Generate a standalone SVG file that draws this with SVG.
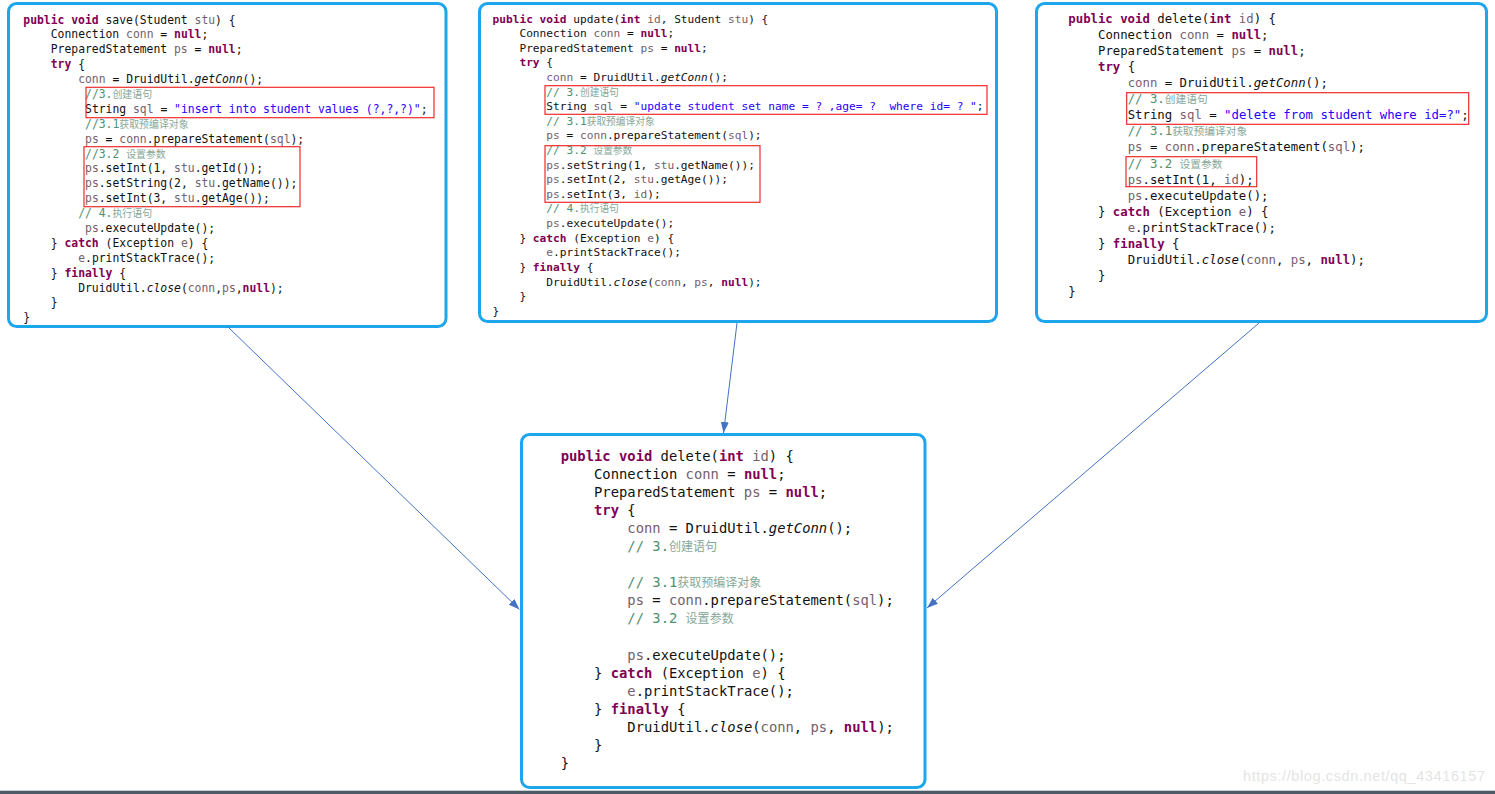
<svg xmlns="http://www.w3.org/2000/svg" width="1495" height="794" viewBox="0 0 1495 794">
<style>
text{font-family:"DejaVu Sans Mono","Liberation Mono",monospace;font-size:10px;fill:#111;white-space:pre}
.k{font-weight:bold;fill:#7f0055}
.v{fill:#75606c}
.s{fill:#2a00ff}
.c{fill:#4f9070}
.z{font-family:"Noto Sans CJK SC",sans-serif;font-size:8.7px;fill:#86a898}
.i{font-style:italic}
.box{fill:#fff;stroke:#1ea6ec;stroke-width:3}
.red{fill:none;stroke:#ee2b2b;stroke-width:1.2}
.wm{font-family:"Liberation Sans",Arial,sans-serif;font-size:14.5px;fill:#e4e4e4}
</style>
<defs>
<marker id="ah" markerUnits="userSpaceOnUse" markerWidth="11" markerHeight="8" refX="11" refY="4" orient="auto">
<path d="M0,0 L11,4 L0,8 z" fill="#4472c4"/>
</marker>
</defs>
<rect x="0" y="0" width="1495" height="794" fill="#fff"/>

<g id="save">
<rect class="box" x="8.5" y="3.5" width="437.5" height="323" rx="8"/>
<g transform="translate(23.3,23.5) scale(1.1395)">
<text x="0" y="0"><tspan class="k">public</tspan> <tspan class="k">void</tspan> save(Student <tspan class="v">stu</tspan>) {</text>
<text x="24.08" y="13.07">Connection <tspan class="v">conn</tspan> = <tspan class="k">null</tspan>;</text>
<text x="24.08" y="26.14">PreparedStatement <tspan class="v">ps</tspan> = <tspan class="k">null</tspan>;</text>
<text x="24.08" y="39.21"><tspan class="k">try</tspan> {</text>
<text x="48.16" y="52.28"><tspan class="v">conn</tspan> = DruidUtil.<tspan class="i">getConn</tspan>();</text>
<text x="54.18" y="65.35"><tspan class="c">//3.</tspan><tspan class="z">创建语句</tspan></text>
<text x="54.18" y="78.42">String <tspan class="v">sql</tspan> = <tspan class="s">"insert into student values (?,?,?)"</tspan>;</text>
<text x="54.18" y="91.49"><tspan class="c">//3.1</tspan><tspan class="z">获取预编译对象</tspan></text>
<text x="54.18" y="104.56"><tspan class="v">ps</tspan> = <tspan class="v">conn</tspan>.prepareStatement(<tspan class="v">sql</tspan>);</text>
<text x="54.18" y="117.63"><tspan class="c">//3.2 </tspan><tspan class="z">设置参数</tspan></text>
<text x="54.18" y="130.7"><tspan class="v">ps</tspan>.setInt(1, <tspan class="v">stu</tspan>.getId());</text>
<text x="54.18" y="143.77"><tspan class="v">ps</tspan>.setString(2, <tspan class="v">stu</tspan>.getName());</text>
<text x="54.18" y="156.84"><tspan class="v">ps</tspan>.setInt(3, <tspan class="v">stu</tspan>.getAge());</text>
<text x="48.16" y="169.91"><tspan class="c">// 4.</tspan><tspan class="z">执行语句</tspan></text>
<text x="54.18" y="182.98"><tspan class="v">ps</tspan>.executeUpdate();</text>
<text x="24.08" y="196.05">} <tspan class="k">catch</tspan> (Exception <tspan class="v">e</tspan>) {</text>
<text x="48.16" y="209.12"><tspan class="v">e</tspan>.printStackTrace();</text>
<text x="24.08" y="222.19">} <tspan class="k">finally</tspan> {</text>
<text x="48.16" y="235.26">DruidUtil.<tspan class="i">close</tspan>(<tspan class="v">conn</tspan>,<tspan class="v">ps</tspan>,<tspan class="k">null</tspan>);</text>
<text x="24.08" y="248.33">}</text>
<text x="0" y="261.4">}</text>
</g>
<rect class="red" x="86" y="87.3" width="348" height="30.4"/>
<rect class="red" x="84" y="146.7" width="216" height="60"/>
</g>

<g id="update">
<rect class="box" x="479.5" y="3.5" width="517" height="318" rx="8"/>
<g transform="translate(492.5,22.5) scale(1.118)">
<text x="0" y="0"><tspan class="k">public</tspan> <tspan class="k">void</tspan> update(<tspan class="k">int</tspan> <tspan class="v">id</tspan>, Student <tspan class="v">stu</tspan>) {</text>
<text x="24.08" y="13.07">Connection <tspan class="v">conn</tspan> = <tspan class="k">null</tspan>;</text>
<text x="24.08" y="26.14">PreparedStatement <tspan class="v">ps</tspan> = <tspan class="k">null</tspan>;</text>
<text x="24.08" y="39.21"><tspan class="k">try</tspan> {</text>
<text x="48.16" y="52.28"><tspan class="v">conn</tspan> = DruidUtil.<tspan class="i">getConn</tspan>();</text>
<text x="48.16" y="65.35"><tspan class="c">// 3.</tspan><tspan class="z">创建语句</tspan></text>
<text x="48.16" y="78.42">String <tspan class="v">sql</tspan> = <tspan class="s">"update student set name = ? ,age= ?  where id= ? "</tspan>;</text>
<text x="48.16" y="91.49"><tspan class="c">// 3.1</tspan><tspan class="z">获取预编译对象</tspan></text>
<text x="48.16" y="104.56"><tspan class="v">ps</tspan> = <tspan class="v">conn</tspan>.prepareStatement(<tspan class="v">sql</tspan>);</text>
<text x="48.16" y="117.63"><tspan class="c">// 3.2 </tspan><tspan class="z">设置参数</tspan></text>
<text x="48.16" y="130.7"><tspan class="v">ps</tspan>.setString(1, <tspan class="v">stu</tspan>.getName());</text>
<text x="48.16" y="143.77"><tspan class="v">ps</tspan>.setInt(2, <tspan class="v">stu</tspan>.getAge());</text>
<text x="48.16" y="156.84"><tspan class="v">ps</tspan>.setInt(3, <tspan class="v">id</tspan>);</text>
<text x="48.16" y="169.91"><tspan class="c">// 4.</tspan><tspan class="z">执行语句</tspan></text>
<text x="48.16" y="182.98"><tspan class="v">ps</tspan>.executeUpdate();</text>
<text x="24.08" y="196.05">} <tspan class="k">catch</tspan> (Exception <tspan class="v">e</tspan>) {</text>
<text x="48.16" y="209.12"><tspan class="v">e</tspan>.printStackTrace();</text>
<text x="24.08" y="222.19">} <tspan class="k">finally</tspan> {</text>
<text x="48.16" y="235.26">DruidUtil.<tspan class="i">close</tspan>(<tspan class="v">conn</tspan>, <tspan class="v">ps</tspan>, <tspan class="k">null</tspan>);</text>
<text x="24.08" y="248.33">}</text>
<text x="0" y="261.4">}</text>
</g>
<rect class="red" x="545" y="85.7" width="442" height="28.6"/>
<rect class="red" x="545" y="145.7" width="215" height="56.6"/>
</g>

<g id="delete">
<rect class="box" x="1036.5" y="3.5" width="450" height="318" rx="8"/>
<g transform="translate(1068.3,22.6) scale(1.2326)">
<text x="0" y="0"><tspan class="k">public</tspan> <tspan class="k">void</tspan> delete(<tspan class="k">int</tspan> <tspan class="v">id</tspan>) {</text>
<text x="24.08" y="13.07">Connection <tspan class="v">conn</tspan> = <tspan class="k">null</tspan>;</text>
<text x="24.08" y="26.14">PreparedStatement <tspan class="v">ps</tspan> = <tspan class="k">null</tspan>;</text>
<text x="24.08" y="39.21"><tspan class="k">try</tspan> {</text>
<text x="48.16" y="52.28"><tspan class="v">conn</tspan> = DruidUtil.<tspan class="i">getConn</tspan>();</text>
<text x="48.16" y="65.35"><tspan class="c">// 3.</tspan><tspan class="z">创建语句</tspan></text>
<text x="48.16" y="78.42">String <tspan class="v">sql</tspan> = <tspan class="s">"delete from student where id=?"</tspan>;</text>
<text x="48.16" y="91.49"><tspan class="c">// 3.1</tspan><tspan class="z">获取预编译对象</tspan></text>
<text x="48.16" y="104.56"><tspan class="v">ps</tspan> = <tspan class="v">conn</tspan>.prepareStatement(<tspan class="v">sql</tspan>);</text>
<text x="48.16" y="117.63"><tspan class="c">// 3.2 </tspan><tspan class="z">设置参数</tspan></text>
<text x="48.16" y="130.7"><tspan class="v">ps</tspan>.setInt(1, <tspan class="v">id</tspan>);</text>
<text x="48.16" y="143.77"><tspan class="v">ps</tspan>.executeUpdate();</text>
<text x="24.08" y="156.84">} <tspan class="k">catch</tspan> (Exception <tspan class="v">e</tspan>) {</text>
<text x="48.16" y="169.91"><tspan class="v">e</tspan>.printStackTrace();</text>
<text x="24.08" y="182.98">} <tspan class="k">finally</tspan> {</text>
<text x="48.16" y="196.05">DruidUtil.<tspan class="i">close</tspan>(<tspan class="v">conn</tspan>, <tspan class="v">ps</tspan>, <tspan class="k">null</tspan>);</text>
<text x="24.08" y="209.12">}</text>
<text x="0" y="222.19">}</text>
</g>
<rect class="red" x="1126.7" y="92.7" width="342" height="31.6"/>
<rect class="red" x="1126" y="156.7" width="130.7" height="30"/>
</g>

<g id="result">
<rect class="box" x="521.5" y="434.5" width="403.5" height="353" rx="8"/>
<g transform="translate(560.7,460.7) scale(1.3837)">
<text x="0" y="0"><tspan class="k">public</tspan> <tspan class="k">void</tspan> delete(<tspan class="k">int</tspan> <tspan class="v">id</tspan>) {</text>
<text x="24.08" y="13.07">Connection <tspan class="v">conn</tspan> = <tspan class="k">null</tspan>;</text>
<text x="24.08" y="26.14">PreparedStatement <tspan class="v">ps</tspan> = <tspan class="k">null</tspan>;</text>
<text x="24.08" y="39.21"><tspan class="k">try</tspan> {</text>
<text x="48.16" y="52.28"><tspan class="v">conn</tspan> = DruidUtil.<tspan class="i">getConn</tspan>();</text>
<text x="48.16" y="65.35"><tspan class="c">// 3.</tspan><tspan class="z">创建语句</tspan></text>
<text x="48.16" y="91.49"><tspan class="c">// 3.1</tspan><tspan class="z">获取预编译对象</tspan></text>
<text x="48.16" y="104.56"><tspan class="v">ps</tspan> = <tspan class="v">conn</tspan>.prepareStatement(<tspan class="v">sql</tspan>);</text>
<text x="48.16" y="117.63"><tspan class="c">// 3.2 </tspan><tspan class="z">设置参数</tspan></text>
<text x="48.16" y="143.77"><tspan class="v">ps</tspan>.executeUpdate();</text>
<text x="24.08" y="156.84">} <tspan class="k">catch</tspan> (Exception <tspan class="v">e</tspan>) {</text>
<text x="48.16" y="169.91"><tspan class="v">e</tspan>.printStackTrace();</text>
<text x="24.08" y="182.98">} <tspan class="k">finally</tspan> {</text>
<text x="48.16" y="196.05">DruidUtil.<tspan class="i">close</tspan>(<tspan class="v">conn</tspan>, <tspan class="v">ps</tspan>, <tspan class="k">null</tspan>);</text>
<text x="24.08" y="209.12">}</text>
<text x="0" y="222.19">}</text>
</g>
</g>

<g id="connectors" stroke="#4472c4" stroke-width="1" fill="none">
<line x1="228" y1="327" x2="519.5" y2="609.5" marker-end="url(#ah)"/>
<line x1="737" y1="323" x2="723.5" y2="433" marker-end="url(#ah)"/>
<line x1="1259" y1="323" x2="927" y2="608" marker-end="url(#ah)"/>
</g>

<text class="wm" x="1243" y="781" textLength="242">https://blog.csdn.net/qq_43416157</text>
<rect x="0" y="790" width="1495" height="1" fill="#c9ced3"/>
<rect x="0" y="791" width="1495" height="3" fill="#4e5a65"/>
</svg>
